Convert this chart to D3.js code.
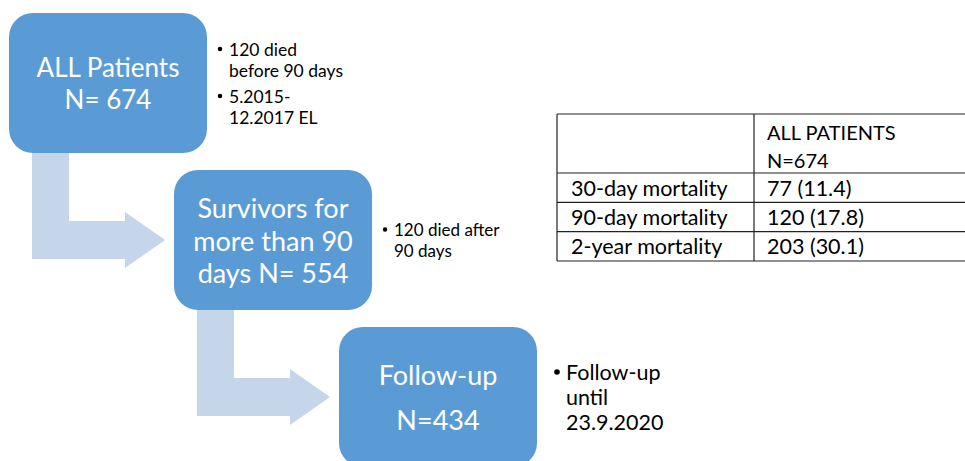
<!DOCTYPE html>
<html lang="en">
<head>
    <meta charset="UTF-8">
    <title>Patient Flow</title>
    <script src="https://d3js.org/d3.v7.min.js"></script>
    <style>
        body {
            margin: 0;
            background: #fff;
            overflow: hidden;
        }
        svg text {
            font-family: Lato, "Open Sans", sans-serif;
        }
    </style>
</head>
<body>
    <div id="chart"></div>
    <script>
        // Flow steps
        const stepLabels = [
            ["ALL Patients", "N= 674"],
            ["Survivors for", "more than 90", "days N= 554"],
            ["Follow-up", "N=434"]
        ];
        const stepNotes = [
            [["120 died", "before 90 days"], ["5.2015-", "12.2017 EL"]],
            [["120 died after", "90 days"]],
            [["Follow-up", "until", "23.9.2020"]]
        ];

        // Mortality table
        const tableHeader = ["ALL PATIENTS", "N=674"];
        const rowLabels = ["30-day mortality", "90-day mortality", "2-year mortality"];
        const rowValues = ["77 (11.4)", "120 (17.8)", "203 (30.1)"];

        const width = 965, height = 461;
        const boxW = 198, boxH = 140, radius = 24;
        const boxColor = "#5b9bd5", arrowColor = "#c5d5ea";

        // per-step text styles
        const labelSize = [26, 27, 27];
        const labelGap = [32, 32.5, 45];
        const noteSize = [17.5, 17, 21.5];
        const noteGap = [21, 21, 25];
        const noteItemGap = [26, 0, 0];
        const noteOffset = [11, 11, 18];

        const svg = d3.select("#chart").append("svg")
            .attr("width", width)
            .attr("height", height);

        const x = d3.scaleLinear().domain([0, 2]).range([9, 339]);
        const y = d3.scaleLinear().domain([0, 2]).range([13, 327]);

        // arrows between steps
        const stem = 37, bar = 38, head = 9, headLen = 40;
        d3.range(stepLabels.length - 1).forEach(i => {
            const sx = x(i) + 23;
            const top = y(i) + boxH;
            const barTop = y(i + 1) + 51;
            const barBot = barTop + bar;
            const mid = (barTop + barBot) / 2;
            const tip = x(i + 1) - 9;
            const hx = tip - headLen;
            const pts = [
                [sx, top], [sx + stem, top], [sx + stem, barTop], [hx, barTop],
                [hx, barTop - head], [tip, mid], [hx, barBot + head],
                [hx, barBot], [sx, barBot]
            ];
            svg.append("path")
                .attr("d", d3.line()(pts) + "Z")
                .attr("fill", arrowColor);
        });

        // boxes
        const steps = svg.selectAll("g.step")
            .data(stepLabels)
            .enter()
            .append("g")
            .attr("class", "step");

        steps.append("rect")
            .attr("x", (d, i) => x(i))
            .attr("y", (d, i) => y(i))
            .attr("width", boxW)
            .attr("height", boxH)
            .attr("rx", radius)
            .attr("fill", boxColor);

        steps.each(function (lines, i) {
            const cy = y(i) + boxH / 2;
            const g = d3.select(this);
            lines.forEach((t, j) => {
                g.append("text")
                    .attr("x", x(i) + boxW / 2)
                    .attr("y", cy + (j - (lines.length - 1) / 2) * labelGap[i])
                    .attr("dominant-baseline", "central")
                    .attr("text-anchor", "middle")
                    .attr("fill", "#fff")
                    .attr("font-size", labelSize[i])
                    .text(t);
            });

            // bullet notes, centred on the box
            const items = stepNotes[i];
            const nLines = d3.sum(items, it => it.length);
            const total = (nLines - items.length) * noteGap[i] + (items.length - 1) * noteItemGap[i];
            let ly = cy - total / 2;
            const bx = x(i) + boxW + noteOffset[i];
            items.forEach((it, k) => {
                if (k > 0) ly += noteItemGap[i];
                g.append("circle")
                    .attr("cx", bx + 2)
                    .attr("cy", ly)
                    .attr("r", noteSize[i] * 0.13)
                    .attr("fill", "#000");
                it.forEach((t, j) => {
                    if (j > 0) ly += noteGap[i];
                    g.append("text")
                        .attr("x", bx + 11)
                        .attr("y", ly)
                        .attr("dominant-baseline", "central")
                        .attr("font-size", noteSize[i])
                        .attr("fill", "#000")
                        .text(t);
                });
            });
        });

        // table
        const tx0 = 557, tx1 = 754, tx2 = 966;
        const tTop = 114, hBot = 173, tBot = 261;
        const rows = d3.scaleBand().domain(rowLabels).range([hBot, tBot]);
        const table = svg.append("g").attr("class", "table");

        const hLines = [tTop, hBot].concat(rowLabels.map(r => rows(r) + rows.bandwidth()));
        table.selectAll("line.h")
            .data(hLines)
            .enter()
            .append("line")
            .attr("x1", tx0).attr("x2", tx2)
            .attr("y1", d => d).attr("y2", d => d)
            .attr("stroke", "#222")
            .attr("stroke-width", 1.2);
        table.selectAll("line.v")
            .data([tx0, tx1])
            .enter()
            .append("line")
            .attr("x1", d => d).attr("x2", d => d)
            .attr("y1", tTop).attr("y2", tBot)
            .attr("stroke", "#222")
            .attr("stroke-width", 1.2);

        table.selectAll("text.head")
            .data(tableHeader)
            .enter()
            .append("text")
            .attr("x", tx1 + 13)
            .attr("y", (d, i) => tTop + 18 + i * 28)
            .attr("dominant-baseline", "central")
            .attr("font-size", 20)
            .text(d => d);

        table.selectAll("text.label")
            .data(rowLabels)
            .enter()
            .append("text")
            .attr("x", tx0 + 14)
            .attr("y", d => rows(d) + rows.bandwidth() / 2)
            .attr("dominant-baseline", "central")
            .attr("font-size", 21.5)
            .text(d => d);

        table.selectAll("text.value")
            .data(rowValues)
            .enter()
            .append("text")
            .attr("x", tx1 + 13)
            .attr("y", (d, i) => rows(rowLabels[i]) + rows.bandwidth() / 2)
            .attr("dominant-baseline", "central")
            .attr("font-size", 21.5)
            .text(d => d);
    </script>
</body>
</html>
